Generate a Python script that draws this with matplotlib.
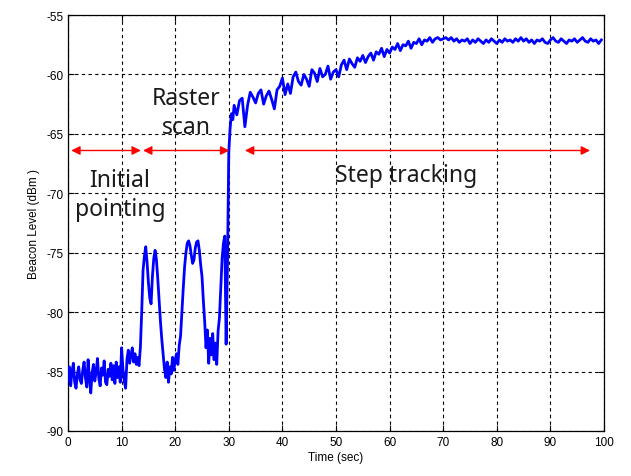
import numpy as np
import matplotlib
matplotlib.use("Agg")
import matplotlib.pyplot as plt

plt.rcParams["axes.unicode_minus"] = False

# ---- data ----
# 0 - 9.75 s, every 0.25 s : initial pointing noise floor
v_init = [-85.8, -84.6, -86.2, -85.0, -84.3, -85.9, -86.4, -85.2, -84.6, -85.7,
          -86.0, -84.9, -84.2, -85.5, -86.3, -84.0, -85.6, -86.8, -85.1, -84.4,
          -85.8, -85.0, -83.9, -85.6, -86.2, -84.7, -85.3, -84.1, -85.9, -86.1,
          -84.8, -85.4, -84.3, -85.7, -84.5, -86.0, -84.2, -85.5, -84.6, -85.9]
# 10 - 30.75 s, every 0.25 s : raster scan
v_raster = [-83.0, -84.8, -85.8, -86.4, -84.0, -83.2, -84.3, -83.6, -83.0, -84.2,
            -83.5, -84.4, -83.8, -84.5, -83.0, -80.0, -76.5, -75.3, -74.5, -75.8,
            -77.5, -78.8, -79.3, -77.0, -75.5, -74.8, -75.6, -77.2, -79.0, -80.8,
            -82.3, -83.6, -84.8, -85.5, -84.2, -85.9, -84.6, -85.2, -83.8, -84.9,
            -84.0, -83.5, -84.4, -82.8, -82.0, -80.0, -78.0, -76.2, -75.0, -74.2,
            -74.0, -74.4, -75.2, -75.9, -75.6, -74.6, -74.1, -74.0, -74.8, -76.0,
            -77.0, -79.0, -80.8, -83.0, -81.5, -84.3, -82.2, -83.6, -81.8, -84.0,
            -82.6, -84.4, -81.6, -80.5, -78.0, -75.5, -74.2, -73.6, -82.7, -76.0,
            -66.5, -64.5, -63.3, -63.8]
# 31 - 99.5 s, every 0.5 s : step tracking
v_track = [-62.6, -63.4, -62.2, -62.0, -64.4, -62.6, -61.5, -61.9, -62.4, -61.6,
           -61.3, -62.5, -61.8, -61.4, -62.1, -62.9, -61.3, -61.0, -60.3, -61.7,
           -60.8, -61.6, -60.2, -59.8, -60.6, -60.9, -60.0, -60.4, -61.0, -59.6,
           -59.9, -60.6, -59.5, -60.2, -60.0, -59.3, -60.4, -59.8, -59.6, -60.2,
           -59.2, -58.8, -59.6, -58.7, -59.1, -59.4, -58.6, -58.9, -58.4, -59.0,
           -58.5, -58.2, -58.8, -58.1, -58.3, -57.8, -58.5, -57.9, -58.2, -57.7,
           -57.9, -57.4, -58.0, -57.5, -57.6, -57.2, -57.8, -57.3, -57.4, -57.0,
           -57.5, -57.1, -57.2, -56.9, -57.3, -57.0, -56.9, -57.1, -57.0, -56.9,
           -57.1, -56.9, -57.2, -57.0, -57.3, -57.1, -57.2, -57.0, -57.4, -57.1,
           -57.3, -57.0, -57.2, -57.4, -57.1, -57.3, -57.0, -57.2, -57.4, -57.1,
           -57.3, -57.0, -57.2, -57.1, -57.3, -57.0, -57.2, -56.9, -57.2, -57.0,
           -57.3, -57.1, -57.4, -57.1, -57.2, -57.0, -57.3, -57.4, -57.1, -56.9,
           -57.2, -57.3, -57.0, -57.2, -57.4, -57.1, -57.2, -57.0, -57.3, -57.1,
           -56.9, -57.2, -57.3, -57.0, -57.2, -57.1, -57.4, -57.1]

t_init = 0.0 + 0.25 * np.arange(len(v_init))
t_raster = 10.0 + 0.25 * np.arange(len(v_raster))
t_track = 31.0 + 0.5 * np.arange(len(v_track))

time = np.concatenate([t_init, t_raster, t_track])
level = np.concatenate([v_init, v_raster, v_track])

# phase arrows (start, end) and labels
phases = [(0.6, 13.6), (14.0, 30.1), (33.0, 97.4)]
arrow_y = -66.4
labels = [("Initial\npointing", 9.7, -70.1),
          ("Raster\nscan", 22.1, -63.2),
          ("Step tracking", 63.1, -68.5)]

xticks = list(range(0, 101, 10))
yticks = list(range(-90, -54, 5))

# ---- figure ----
fig = plt.figure(figsize=(6.31, 4.77), dpi=100)
ax = fig.add_axes([68 / 631, 1 - 432 / 477, 536 / 631, 416 / 477])

ax.plot(time, level, color="#0000FF", lw=2.0, zorder=3)

ax.set_xlim(0, 100)
ax.set_ylim(-90, -55)
ax.set_xticks(xticks)
ax.set_yticks(yticks)
ax.grid(True, color="black", linestyle=(0, (3, 3)), linewidth=0.8)
ax.tick_params(direction="in", top=True, right=True, length=4, width=0.8,
               labelsize=8.5)
for lab in ax.get_xticklabels() + ax.get_yticklabels():
    lab.set_family("Liberation Sans")
for sp in ax.spines.values():
    sp.set_linewidth(0.9)

ax.set_xlabel("Time (sec)", fontsize=8.5, family="Liberation Sans", labelpad=2)
ax.set_ylabel("Beacon Level (dBm )", fontsize=8.5, family="Liberation Sans",
              labelpad=4)

for x0, x1 in phases:
    ax.annotate("", xy=(x1, arrow_y), xytext=(x0, arrow_y),
                arrowprops=dict(arrowstyle="<|-|>", color="#FF0000", lw=1.0,
                                mutation_scale=13, shrinkA=0, shrinkB=0),
                zorder=4)

for txt, x, y in labels:
    ax.text(x, y, txt, ha="center", va="center", fontsize=16.5,
            family="Noto Sans", linespacing=1.3, color="#1a1a1a", zorder=5)

fig.savefig("out.png", dpi=100)
